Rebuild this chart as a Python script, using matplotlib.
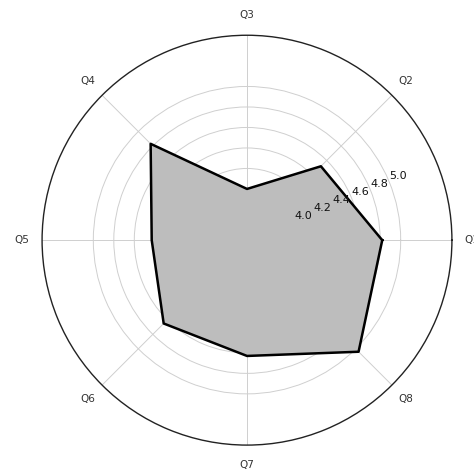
import numpy as np
import matplotlib
matplotlib.use("Agg")
import matplotlib.pyplot as plt

# survey averages per question
questions = ["Q1", "Q2", "Q3", "Q4", "Q5", "Q6", "Q7", "Q8"]
scores = [4.82, 4.52, 4.00, 4.83, 4.43, 4.65, 4.63, 5.04]
r_ticks = [4.0, 4.2, 4.4, 4.6, 4.8, 5.0]
r_tick_labels = ["4.0", "4.2", "4.4", "4.6", "4.8", "5.0"]


def main():
    n = len(questions)
    angles = np.arange(n) * 2 * np.pi / n
    # close the polygon
    theta = np.concatenate([angles, angles[:1]])
    vals = np.concatenate([scores, scores[:1]])

    fig = plt.figure(figsize=(4.74, 4.70), dpi=100)
    rect = [0.0886, 0.053, 0.865, 0.872]
    ax = fig.add_axes(rect, projection="polar")

    ax.fill(theta, vals, facecolor="#bdbdbd", edgecolor="none", zorder=2)
    ax.plot(theta, vals, color="black", linewidth=1.8, zorder=3)

    ax.set_ylim(3.5, 5.5)
    ax.set_thetagrids(np.degrees(angles), questions)
    ax.set_rgrids(r_ticks, [""] * len(r_ticks), angle=22.5)

    ax.grid(True, color="#cfcfcf", linewidth=0.7, linestyle="-")
    ax.set_axisbelow(True)
    ax.spines["polar"].set_linewidth(1.0)
    ax.spines["polar"].set_color("#222222")
    ax.tick_params(axis="x", labelsize=7.5, colors="#333333", pad=4)

    # second transparent polar axes on top, only for the radial labels,
    # so they stay readable over the filled polygon
    top = fig.add_axes(rect, projection="polar")
    top.patch.set_visible(False)
    top.set_ylim(3.5, 5.5)
    top.set_rgrids(r_ticks, r_tick_labels, angle=22.5)
    top.set_xticks([])
    top.grid(False)
    top.spines["polar"].set_visible(False)
    top.tick_params(axis="y", labelsize=8, colors="#111111")

    fig.savefig("out.png", dpi=100)


if __name__ == "__main__":
    main()
